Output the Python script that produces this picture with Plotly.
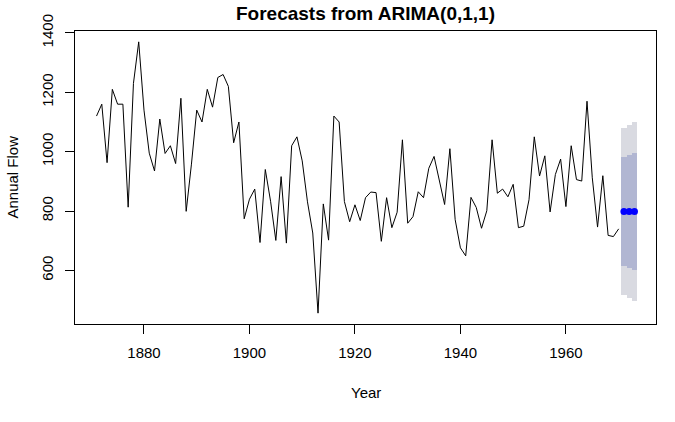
import plotly.graph_objects as go

years = list(range(1871, 1971))
flow = [1120, 1160, 963, 1210, 1160, 1160, 813, 1230, 1370, 1140, 995, 935, 1110, 994, 1020,
        960, 1180, 799, 958, 1140, 1100, 1210, 1150, 1250, 1260, 1220, 1030, 1100, 774, 840,
        874, 694, 940, 833, 701, 916, 692, 1020, 1050, 969, 831, 726, 456, 824, 702, 1120,
        1100, 832, 764, 821, 768, 845, 864, 862, 698, 845, 744, 796, 1040, 759, 781, 865,
        845, 944, 984, 897, 822, 1010, 771, 676, 649, 846, 812, 742, 801, 1040, 860, 874,
        848, 890, 744, 749, 838, 1050, 918, 986, 797, 923, 975, 815, 1020, 906, 901, 1170,
        912, 746, 919, 718, 714, 740]

fc_years = [1971, 1972, 1973]
fc_mean = [798.4, 798.4, 798.4]
lo80 = [614.5, 608.1, 601.8]
hi80 = [982.3, 988.7, 995.0]
lo95 = [517.1, 507.3, 497.7]
hi95 = [1079.7, 1089.5, 1099.1]

xticks = [1880, 1900, 1920, 1940, 1960]
yticks = [600, 800, 1000, 1200, 1400]

fig = go.Figure()
fig.add_trace(go.Bar(x=fc_years, y=[h - l for h, l in zip(hi95, lo95)], base=lo95, width=1,
                     marker=dict(color="#D9DAE1", line=dict(width=0)), showlegend=False))
fig.add_trace(go.Bar(x=fc_years, y=[h - l for h, l in zip(hi80, lo80)], base=lo80, width=1,
                     marker=dict(color="#B1B6D2", line=dict(width=0)), showlegend=False))
fig.add_trace(go.Scatter(x=years, y=flow, mode="lines", line=dict(color="black", width=1),
                         showlegend=False))
fig.add_trace(go.Scatter(x=fc_years, y=fc_mean, mode="markers",
                         marker=dict(color="#0000FF", size=7), showlegend=False))

font = "Liberation Sans, Arial, sans-serif"
W, H = 675, 422
fig.update_layout(
    width=W, height=H,
    margin=dict(l=75, r=19, t=31, b=98),
    paper_bgcolor="white", plot_bgcolor="white",
    barmode="overlay", bargap=0,
    font=dict(family=font, size=15, color="black"),
    title=dict(text="<b>Forecasts from ARIMA(0,1,1)</b>", x=0.5, xref="paper",
               xanchor="center",
               y=1 - 13.5 / H, yref="container", yanchor="middle",
               font=dict(family=font, size=19, color="black")),
    xaxis=dict(range=[1866.92, 1977.08], tickvals=xticks, ticks="outside", ticklen=9,
               showline=True, mirror=True, linecolor="black", linewidth=1,
               showgrid=False, zeroline=False, tickcolor="black", tickfont=dict(size=15),
               ticklabelstandoff=6),
    yaxis=dict(range=[419.44, 1406.56], tickvals=yticks, ticks="outside", ticklen=9,
               tickangle=-90, showline=True, mirror=True, linecolor="black", linewidth=1,
               showgrid=False, zeroline=False, tickcolor="black", tickfont=dict(size=15),
               ticklabelstandoff=6),
    annotations=[
        dict(text="Year", x=0.5, xref="paper", y=0, yref="paper", yanchor="middle",
             yshift=-68, showarrow=False, font=dict(size=15)),
        dict(text="Annual Flow", x=0, xref="paper", xanchor="center", xshift=-63,
             y=0.5, yref="paper", textangle=-90, showarrow=False, font=dict(size=15)),
    ],
)

fig.write_html("out.html", config={"displayModeBar": False},
               post_script="document.body.style.margin='0';")
